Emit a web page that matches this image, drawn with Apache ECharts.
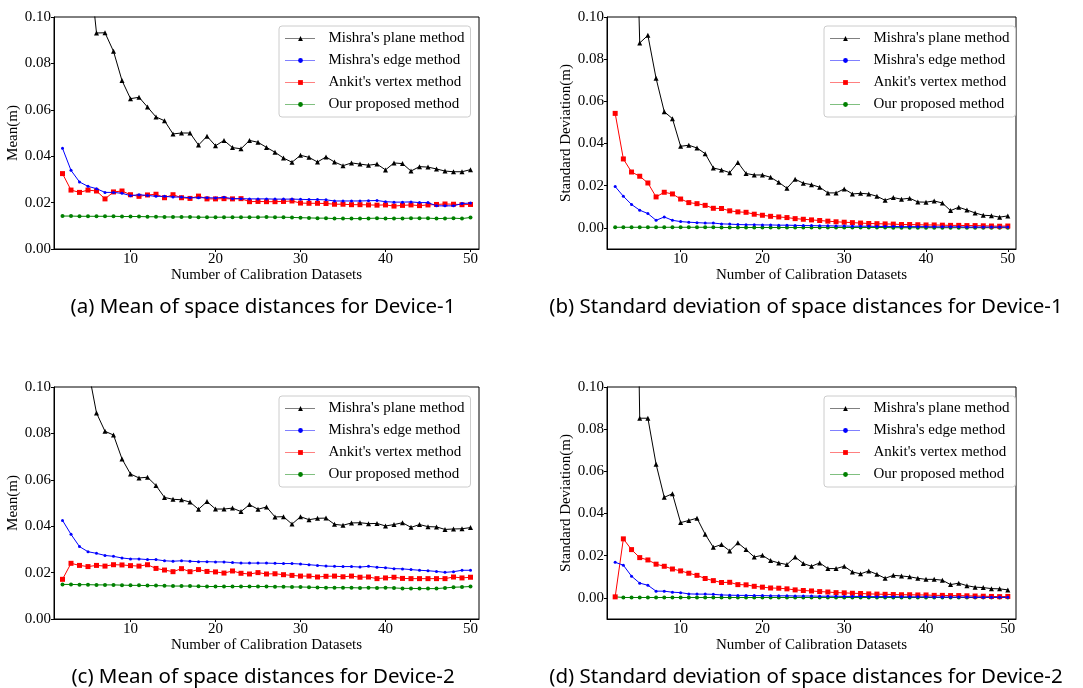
<!DOCTYPE html>
<html>
<head>
<meta charset="utf-8">
<script src="https://cdn.jsdelivr.net/npm/echarts@6/dist/echarts.min.js"></script>
<style>
  html, body { margin: 0; padding: 0; background: #fff; }
  #chart { width: 1083px; height: 688px; }
</style>
</head>
<body>
<div id="chart"></div>
<script>
// number of calibration datasets (x)
const X = [2, 3, 4, 5, 6, 7, 8, 9, 10,
  11, 12, 13, 14, 15, 16, 17, 18, 19, 20,
  21, 22, 23, 24, 25, 26, 27, 28, 29, 30,
  31, 32, 33, 34, 35, 36, 37, 38, 39, 40,
  41, 42, 43, 44, 45, 46, 47, 48, 49, 50];

const NAMES = ["Mishra's plane method", "Mishra's edge method", "Ankit's vertex method", "Our proposed method"];
const X_TICKS = [10, 20, 30, 40, 50];
const Y_TICKS = [0, 0.02, 0.04, 0.06, 0.08, 0.10];

// (a) mean, device-1
const a_plane = [0.21, 0.175, 0.148, 0.128, 0.0931, 0.0932, 0.0852, 0.0726, 0.0648,
  0.0654, 0.0612, 0.0569, 0.0553, 0.0496, 0.0500, 0.0500, 0.0448, 0.0486, 0.0445,
  0.0468, 0.0437, 0.0432, 0.0468, 0.0460, 0.0438, 0.0417, 0.0392, 0.0374, 0.0404,
  0.0395, 0.0375, 0.0397, 0.0375, 0.0359, 0.0371, 0.0366, 0.0361, 0.0366, 0.0341,
  0.0371, 0.0368, 0.0336, 0.0355, 0.0353, 0.0345, 0.0336, 0.0333, 0.0333, 0.0342];
const a_edge = [0.0434, 0.0339, 0.0289, 0.0270, 0.0260, 0.0244, 0.0244, 0.0240, 0.0230,
  0.0234, 0.0231, 0.0227, 0.0227, 0.0224, 0.0224, 0.0221, 0.0221, 0.0221, 0.0220,
  0.0223, 0.0217, 0.0217, 0.0216, 0.0216, 0.0216, 0.0215, 0.0215, 0.0215, 0.0214,
  0.0213, 0.0213, 0.0212, 0.0207, 0.0207, 0.0207, 0.0207, 0.0208, 0.0209, 0.0204,
  0.0202, 0.0202, 0.0203, 0.0200, 0.0200, 0.0186, 0.0186, 0.0186, 0.0196, 0.0198];
const a_vertex = [0.0325, 0.0254, 0.0244, 0.0254, 0.0250, 0.0216, 0.0246, 0.0250, 0.0234,
  0.0227, 0.0233, 0.0236, 0.0221, 0.0234, 0.0221, 0.0218, 0.0228, 0.0216, 0.0216,
  0.0217, 0.0216, 0.0217, 0.0204, 0.0205, 0.0204, 0.0204, 0.0205, 0.0207, 0.0198,
  0.0197, 0.0197, 0.0196, 0.0193, 0.0193, 0.0191, 0.0191, 0.0190, 0.0189, 0.0190,
  0.0185, 0.0188, 0.0190, 0.0187, 0.0190, 0.0192, 0.0194, 0.0193, 0.0191, 0.0192];
const a_ours = [0.0142, 0.0142, 0.0141, 0.0141, 0.0141, 0.0141, 0.0141, 0.0140, 0.0140,
  0.0140, 0.0139, 0.0139, 0.0138, 0.0138, 0.0138, 0.0138, 0.0137, 0.0137, 0.0137,
  0.0137, 0.0137, 0.0137, 0.0137, 0.0137, 0.0138, 0.0137, 0.0137, 0.0136, 0.0135,
  0.0134, 0.0133, 0.0133, 0.0131, 0.0131, 0.0131, 0.0131, 0.0132, 0.0133, 0.0131,
  0.0132, 0.0132, 0.0133, 0.0133, 0.0133, 0.0131, 0.0132, 0.0133, 0.0131, 0.0136];

// (b) standard deviation, device-1
const b_plane = [0.40, 0.32, 0.236, 0.0877, 0.0913, 0.0709, 0.0551, 0.0518, 0.0387,
  0.0392, 0.0379, 0.0352, 0.0284, 0.0275, 0.0262, 0.0310, 0.0258, 0.0251, 0.0251,
  0.0240, 0.0216, 0.0188, 0.0231, 0.0212, 0.0205, 0.0193, 0.0166, 0.0166, 0.0185,
  0.0161, 0.0164, 0.0161, 0.0150, 0.0131, 0.0144, 0.0136, 0.0141, 0.0123, 0.0122,
  0.0128, 0.0118, 0.0082, 0.0098, 0.0085, 0.0071, 0.0060, 0.0058, 0.0051, 0.0057];
const b_edge = [0.0196, 0.0150, 0.0111, 0.0084, 0.0068, 0.0036, 0.0052, 0.0036, 0.0030,
  0.0027, 0.0025, 0.0023, 0.0023, 0.0019, 0.0018, 0.0016, 0.0015, 0.0015, 0.0014,
  0.0014, 0.0013, 0.0013, 0.0012, 0.0011, 0.0011, 0.0010, 0.0010, 0.0009, 0.0009,
  0.0008, 0.0008, 0.0008, 0.0007, 0.0007, 0.0007, 0.0006, 0.0006, 0.0006, 0.0006,
  0.0005, 0.0005, 0.0005, 0.0005, 0.0004, 0.0004, 0.0004, 0.0004, 0.0004, 0.0004];
const b_vertex = [0.0543, 0.0327, 0.0265, 0.0245, 0.0213, 0.0147, 0.0169, 0.0161, 0.0137,
  0.0120, 0.0115, 0.0107, 0.0093, 0.0092, 0.0081, 0.0076, 0.0074, 0.0065, 0.0060,
  0.0055, 0.0052, 0.0049, 0.0044, 0.0041, 0.0038, 0.0035, 0.0032, 0.0029, 0.0027,
  0.0025, 0.0023, 0.0021, 0.0020, 0.0019, 0.0018, 0.0016, 0.0016, 0.0015, 0.0014,
  0.0014, 0.0013, 0.0012, 0.0012, 0.0011, 0.0011, 0.0010, 0.0009, 0.0008, 0.0009];
const b_ours = [0.0003, 0.0003, 0.0003, 0.0003, 0.0003, 0.0003, 0.0003, 0.0003, 0.0003,
  0.0003, 0.0003, 0.0003, 0.0003, 0.0002, 0.0002, 0.0002, 0.0002, 0.0002, 0.0002,
  0.0002, 0.0002, 0.0002, 0.0002, 0.0002, 0.0002, 0.0002, 0.0002, 0.0002, 0.0002,
  0.0002, 0.0002, 0.0002, 0.0002, 0.0002, 0.0001, 0.0001, 0.0001, 0.0001, 0.0001,
  0.0001, 0.0001, 0.0001, 0.0001, 0.0001, 0.0001, 0.0001, 0.0001, 0.0001, 0.0001];

// (c) mean, device-2
const c_plane = [0.19, 0.155, 0.128, 0.108, 0.0888, 0.0809, 0.0793, 0.0690, 0.0625,
  0.0608, 0.0611, 0.0575, 0.0524, 0.0516, 0.0514, 0.0504, 0.0473, 0.0506, 0.0474,
  0.0474, 0.0478, 0.0463, 0.0493, 0.0473, 0.0483, 0.0440, 0.0441, 0.0409, 0.0441,
  0.0428, 0.0434, 0.0435, 0.0408, 0.0404, 0.0414, 0.0415, 0.0411, 0.0412, 0.0401,
  0.0407, 0.0415, 0.0395, 0.0407, 0.0398, 0.0397, 0.0386, 0.0388, 0.0389, 0.0394];
const c_edge = [0.0425, 0.0365, 0.0312, 0.0290, 0.0283, 0.0274, 0.0270, 0.0263, 0.0259,
  0.0259, 0.0256, 0.0256, 0.0251, 0.0249, 0.0251, 0.0249, 0.0247, 0.0247, 0.0246,
  0.0246, 0.0243, 0.0241, 0.0241, 0.0241, 0.0241, 0.0240, 0.0239, 0.0239, 0.0237,
  0.0234, 0.0231, 0.0228, 0.0227, 0.0226, 0.0226, 0.0224, 0.0227, 0.0223, 0.0221,
  0.0217, 0.0216, 0.0213, 0.0210, 0.0208, 0.0205, 0.0201, 0.0204, 0.0210, 0.0210];
const c_vertex = [0.0171, 0.0240, 0.0231, 0.0226, 0.0231, 0.0228, 0.0234, 0.0233, 0.0230,
  0.0228, 0.0234, 0.0218, 0.0211, 0.0204, 0.0217, 0.0204, 0.0213, 0.0205, 0.0203,
  0.0198, 0.0207, 0.0197, 0.0194, 0.0200, 0.0194, 0.0195, 0.0191, 0.0188, 0.0185,
  0.0185, 0.0181, 0.0184, 0.0185, 0.0182, 0.0185, 0.0180, 0.0181, 0.0174, 0.0177,
  0.0180, 0.0175, 0.0174, 0.0174, 0.0174, 0.0174, 0.0174, 0.0181, 0.0177, 0.0180];
const c_ours = [0.0149, 0.0149, 0.0148, 0.0148, 0.0147, 0.0147, 0.0147, 0.0146, 0.0145,
  0.0145, 0.0144, 0.0144, 0.0143, 0.0142, 0.0142, 0.0142, 0.0141, 0.0140, 0.0140,
  0.0140, 0.0140, 0.0140, 0.0140, 0.0140, 0.0140, 0.0139, 0.0139, 0.0138, 0.0138,
  0.0137, 0.0136, 0.0135, 0.0135, 0.0135, 0.0135, 0.0134, 0.0135, 0.0134, 0.0135,
  0.0134, 0.0132, 0.0132, 0.0131, 0.0131, 0.0131, 0.0134, 0.0137, 0.0138, 0.0140];

// (d) standard deviation, device-2
const d_plane = [0.50, 0.42, 0.33, 0.0852, 0.0852, 0.0634, 0.0477, 0.0494, 0.0357,
  0.0367, 0.0378, 0.0302, 0.0240, 0.0253, 0.0223, 0.0261, 0.0229, 0.0194, 0.0202,
  0.0177, 0.0166, 0.0158, 0.0194, 0.0163, 0.0150, 0.0166, 0.0139, 0.0139, 0.0150,
  0.0123, 0.0114, 0.0128, 0.0112, 0.0093, 0.0107, 0.0104, 0.0100, 0.0093, 0.0088,
  0.0088, 0.0084, 0.0063, 0.0070, 0.0058, 0.0051, 0.0049, 0.0044, 0.0043, 0.0038];
const d_edge = [0.0169, 0.0155, 0.0103, 0.0070, 0.0060, 0.0032, 0.0032, 0.0027, 0.0025,
  0.0019, 0.0018, 0.0018, 0.0017, 0.0014, 0.0013, 0.0012, 0.0012, 0.0011, 0.0011,
  0.0010, 0.0010, 0.0010, 0.0009, 0.0009, 0.0009, 0.0008, 0.0008, 0.0008, 0.0007,
  0.0007, 0.0007, 0.0006, 0.0006, 0.0006, 0.0006, 0.0005, 0.0005, 0.0005, 0.0005,
  0.0004, 0.0004, 0.0004, 0.0004, 0.0004, 0.0003, 0.0003, 0.0003, 0.0003, 0.0003];
const d_vertex = [0.0005, 0.0280, 0.0229, 0.0191, 0.0180, 0.0160, 0.0150, 0.0137, 0.0128,
  0.0117, 0.0107, 0.0092, 0.0082, 0.0073, 0.0074, 0.0063, 0.0062, 0.0055, 0.0051,
  0.0047, 0.0046, 0.0043, 0.0038, 0.0035, 0.0033, 0.0030, 0.0028, 0.0025, 0.0024,
  0.0022, 0.0021, 0.0019, 0.0018, 0.0017, 0.0016, 0.0015, 0.0015, 0.0014, 0.0014,
  0.0012, 0.0012, 0.0011, 0.0011, 0.0010, 0.0009, 0.0008, 0.0007, 0.0006, 0.0007];
const d_ours = [0.0005, 0.0002, 0.0002, 0.0002, 0.0002, 0.0002, 0.0002, 0.0002, 0.0002,
  0.0002, 0.0002, 0.0002, 0.0002, 0.0002, 0.0002, 0.0002, 0.0002, 0.0002, 0.0002,
  0.0002, 0.0002, 0.0002, 0.0002, 0.0002, 0.0002, 0.0002, 0.0002, 0.0002, 0.0002,
  0.0002, 0.0002, 0.0002, 0.0002, 0.0002, 0.0002, 0.0002, 0.0002, 0.0002, 0.0002,
  0.0002, 0.0002, 0.0002, 0.0002, 0.0002, 0.0002, 0.0002, 0.0002, 0.0002, 0.0002];

const SERIF = '"Liberation Serif", "DejaVu Serif", serif';
const SANS = '"Noto Sans", "DejaVu Sans", sans-serif';

// panel layout: plot box, legend box, caption
const panels = [
  { left: 54, top: 17, width: 425, ymin: 0, yname: 'Mean(m)', legendLeft: 279, capX: 263, capY: 307,
    caption: '(a) Mean of space distances for Device-1', data: [a_plane, a_edge, a_vertex, a_ours] },
  { left: 607, top: 17, width: 409, ymin: -0.01, yname: 'Standard Deviation(m)', legendLeft: 824, capX: 806, capY: 307,
    caption: '(b) Standard deviation of space distances for Device-1', data: [b_plane, b_edge, b_vertex, b_ours] },
  { left: 54, top: 387, width: 425, ymin: 0, yname: 'Mean(m)', legendLeft: 279, capX: 263, capY: 677,
    caption: '(c) Mean of space distances for Device-2', data: [c_plane, c_edge, c_vertex, c_ours] },
  { left: 607, top: 387, width: 409, ymin: -0.01, yname: 'Standard Deviation(m)', legendLeft: 824, capX: 806, capY: 677,
    caption: '(d) Standard deviation of space distances for Device-2', data: [d_plane, d_edge, d_vertex, d_ours] }
];

const styles = [
  { color: '#000000', symbol: 'triangle', symbolSize: 5 },
  { color: '#0000ff', symbol: 'circle', symbolSize: 3 },
  { color: '#ff0000', symbol: 'rect', symbolSize: 5 },
  { color: '#008000', symbol: 'circle', symbolSize: 4 }
];

const labelStyle = { fontFamily: SERIF, fontSize: 15, color: '#000' };

const grids = [], xAxes = [], yAxes = [], legends = [], series = [], graphics = [];

panels.forEach((p, i) => {
  grids.push({
    left: p.left, top: p.top, width: p.width, height: 232,
    show: true, borderColor: '#000', borderWidth: 1, backgroundColor: 'transparent'
  });
  xAxes.push({
    gridIndex: i, type: 'value', min: 1, max: 51,
    name: 'Number of Calibration Datasets', nameLocation: 'middle', nameGap: 16,
    nameTextStyle: labelStyle,
    axisLine: { show: true, onZero: false, lineStyle: { color: '#000', width: 1 } },
    axisTick: { show: true, length: 3, customValues: X_TICKS, lineStyle: { color: '#000' } },
    axisLabel: Object.assign({ customValues: X_TICKS, margin: 3 }, labelStyle),
    splitLine: { show: false }
  });
  yAxes.push({
    gridIndex: i, type: 'value', min: p.ymin, max: 0.1,
    name: p.yname, nameLocation: 'middle', nameGap: 31,
    nameTextStyle: labelStyle,
    axisLine: { show: true, onZero: false, lineStyle: { color: '#000', width: 1 } },
    axisTick: { show: true, length: 3, customValues: Y_TICKS, lineStyle: { color: '#000' } },
    axisLabel: Object.assign({ customValues: Y_TICKS, margin: 3, formatter: v => v.toFixed(2) }, labelStyle),
    splitLine: { show: false }
  });
  legends.push({
    orient: 'vertical', left: p.legendLeft, top: p.top + 9,
    data: NAMES,
    itemWidth: 30, itemHeight: 6, itemGap: 7,
    padding: [5, 6, 5, 6],
    backgroundColor: '#fff', borderColor: '#cccccc', borderWidth: 1, borderRadius: 3,
    lineStyle: { type: 'dotted', width: 1 },
    textStyle: { fontFamily: SERIF, fontSize: 15, color: '#000', lineHeight: 15, padding: [0, 0, 0, 8] },
    selectedMode: false
  });
  p.data.forEach((arr, k) => {
    const s = styles[k];
    series.push({
      name: NAMES[k], type: 'line', xAxisIndex: i, yAxisIndex: i,
      data: X.map((x, j) => [x, arr[j]]),
      symbol: s.symbol, symbolSize: s.symbolSize, showAllSymbol: true,
      itemStyle: { color: s.color },
      lineStyle: { color: s.color, width: 1 },
      clip: true, z: 2 + (3 - k)
    });
  });
  graphics.push({
    type: 'text', x: p.capX, y: p.capY,
    style: { text: p.caption, font: '20.5px ' + SANS, fill: '#000', align: 'center', verticalAlign: 'middle' }
  });
});

const chart = echarts.init(document.getElementById('chart'), null, { renderer: 'canvas' });
chart.setOption({
  animation: false,
  backgroundColor: '#fff',
  grid: grids,
  xAxis: xAxes,
  yAxis: yAxes,
  legend: legends,
  series: series,
  graphic: graphics
});
</script>
</body>
</html>
